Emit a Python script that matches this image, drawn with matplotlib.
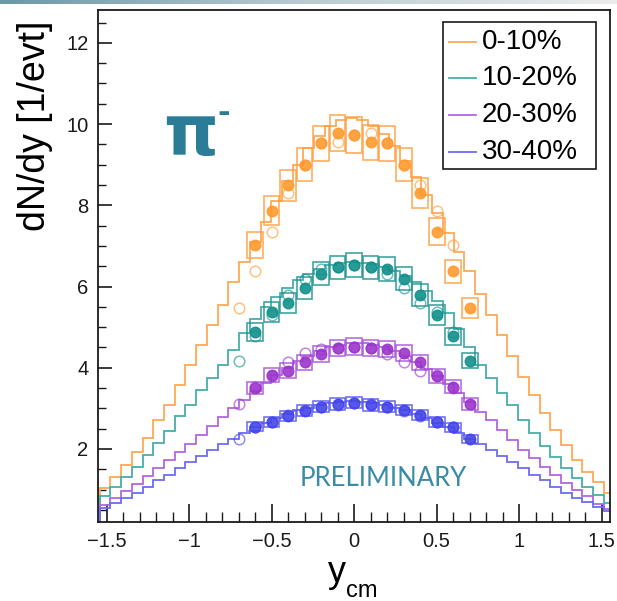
import numpy as np
import matplotlib
matplotlib.use('Agg')
import matplotlib.pyplot as plt
from matplotlib.patches import Rectangle
from matplotlib.lines import Line2D
from matplotlib.ticker import MultipleLocator, FuncFormatter
from matplotlib.colors import LinearSegmentedColormap

plt.rcParams['font.family'] = ['Liberation Sans', 'DejaVu Sans']

# centrality classes
labels = ['0-10%', '10-20%', '20-30%', '30-40%']

# model histograms: rapidity bins of 0.065
bin_edges = np.round(0.018 + 0.065 * np.arange(-24, 25), 4)
model_0_10 = [1.03, 1.32, 1.61, 1.93, 2.28, 2.71, 3.08, 3.58, 4.07, 4.56, 5.05, 5.55,
              6.12, 6.61, 7.10, 7.60, 8.10, 8.60, 9.00, 9.40, 9.70, 9.95, 10.10, 10.15,
              10.10, 9.95, 9.75, 9.45, 9.10, 8.70, 8.25, 7.80, 7.31, 6.86, 6.37, 5.82,
              5.30, 4.81, 4.29, 3.78, 3.33, 2.88, 2.47, 2.10, 1.73, 1.44, 1.19, 0.91]
model_10_20 = [0.85, 1.05, 1.30, 1.55, 1.85, 2.14, 2.43, 2.80, 3.08, 3.45, 3.74, 4.07,
               4.44, 4.85, 5.20, 5.50, 5.75, 5.97, 6.15, 6.30, 6.42, 6.52, 6.58, 6.60,
               6.58, 6.55, 6.48, 6.38, 6.25, 6.10, 5.90, 5.65, 5.35, 4.95, 4.50, 4.07,
               3.74, 3.37, 3.08, 2.71, 2.39, 2.06, 1.81, 1.52, 1.28, 1.07, 0.87, 0.66]
model_20_30 = [0.62, 0.78, 0.96, 1.14, 1.33, 1.52, 1.72, 1.92, 2.12, 2.34, 2.56, 2.78,
               3.00, 3.20, 3.42, 3.62, 3.82, 4.00, 4.16, 4.30, 4.42, 4.50, 4.56, 4.60,
               4.60, 4.56, 4.50, 4.40, 4.28, 4.14, 3.98, 3.80, 3.60, 3.38, 3.15, 2.92,
               2.70, 2.47, 2.22, 1.98, 1.77, 1.56, 1.36, 1.16, 0.99, 0.83, 0.65, 0.52]
model_30_40 = [0.54, 0.66, 0.79, 0.91, 1.07, 1.24, 1.36, 1.52, 1.69, 1.83, 1.98, 2.12,
               2.25, 2.40, 2.53, 2.65, 2.76, 2.86, 2.95, 3.02, 3.08, 3.13, 3.16, 3.17,
               3.16, 3.13, 3.08, 3.02, 2.95, 2.86, 2.76, 2.65, 2.53, 2.40, 2.25, 2.12,
               1.98, 1.83, 1.69, 1.52, 1.36, 1.24, 1.07, 0.91, 0.79, 0.70, 0.58, 0.46]

# measured dN/dy (filled) at y_cm, reflected points drawn open
y_cm = np.array([-0.6, -0.5, -0.4, -0.3, -0.2, -0.1, 0.0, 0.1, 0.2, 0.3, 0.4, 0.5, 0.6, 0.7])
data_0_10 = [7.02, 7.87, 8.49, 9.00, 9.53, 9.78, 9.73, 9.55, 9.53, 9.00, 8.30, 7.35, 6.37, 5.47]
data_10_20 = [4.89, 5.38, 5.60, 5.96, 6.31, 6.47, 6.53, 6.47, 6.43, 6.19, 5.79, 5.30, 4.77, 4.17]
data_20_30 = [3.50, 3.81, 3.93, 4.13, 4.34, 4.48, 4.52, 4.48, 4.46, 4.36, 4.13, 3.80, 3.53, 3.11]
data_30_40 = [2.55, 2.67, 2.81, 2.94, 3.04, 3.11, 3.14, 3.08, 3.04, 2.96, 2.84, 2.67, 2.53, 2.24]
sys_rel = 0.045

models = [model_0_10, model_10_20, model_20_30, model_30_40]
datas = [data_0_10, data_10_20, data_20_30, data_30_40]
line_colors = ['#ffa955', '#48aea9', '#b466e2', '#6c6cf4']
marker_colors = ['#ff9a2e', '#12908b', '#9b35cc', '#4545ea']
box_colors = ['#ffa040', '#1f9590', '#a955dc', '#5a5af0']

W, H = 617, 601
fig = plt.figure(figsize=(W / 100, H / 100), dpi=100)
ax = fig.add_axes([98.3 / W, 1 - 522 / H, (610 - 98.3) / W, 512 / H])

for mod, dat, lc, mc, bc in zip(models, datas, line_colors, marker_colors, box_colors):
    ax.stairs(mod, bin_edges, color=lc, lw=1.3, zorder=2)
    dat = np.array(dat)
    for x, y in zip(y_cm, dat):
        ax.add_patch(Rectangle((x - 0.0475, y * (1 - sys_rel)), 0.095, 2 * sys_rel * y,
                               fill=False, edgecolor=bc, lw=1.2, alpha=0.85, zorder=3))
    ax.plot(-y_cm, dat, 'o', ms=7.6, mfc='none', mec=mc, mew=1.1, alpha=0.6, zorder=4)
    ax.plot(y_cm, dat, 'o', ms=7.6, color=mc, mec=mc, alpha=0.9, zorder=5)

ax.set_xlim(-1.55, 1.55)
ax.set_ylim(0.2, 12.81)
ax.xaxis.set_major_locator(MultipleLocator(0.5))
ax.xaxis.set_minor_locator(MultipleLocator(0.1))
ax.xaxis.set_major_formatter(FuncFormatter(lambda v, p: f'{v:g}'.replace('-', '\u2212')))
ax.yaxis.set_major_locator(MultipleLocator(2))
ax.yaxis.set_minor_locator(MultipleLocator(0.5))
ax.tick_params(axis='x', which='major', direction='in', length=13, width=1.2, pad=7, labelsize=14.5)
ax.tick_params(axis='x', which='minor', direction='in', length=7, width=1.0)
ax.tick_params(axis='y', which='major', direction='in', length=10, width=1.2, pad=7, labelsize=14.5)
ax.tick_params(axis='y', which='minor', direction='in', length=6, width=1.0)
ax.tick_params(top=False, right=False, which='both', colors='#1a1a1a')
for sp in ax.spines.values():
    sp.set_linewidth(1.3)
    sp.set_color('#1a1a1a')

# legend box
ax.add_patch(Rectangle((0.674, 0.689), 0.299, 0.287, transform=ax.transAxes,
                       facecolor='white', edgecolor='#1a1a1a', lw=1.2, zorder=6))
for i, (lab, lc) in enumerate(zip(labels, line_colors)):
    yy = 0.938 - i * 0.0717
    ax.add_line(Line2D([0.685, 0.738], [yy, yy], transform=ax.transAxes, color=lc, lw=1.3, zorder=7))
    ax.text(0.7498, yy, lab, transform=ax.transAxes, fontsize=20, va='center', ha='left', zorder=7)

# axis titles
fig.text(35 / W, 1 - 126 / H, 'dN/dy [1/evt]', rotation=90, fontsize=27, ha='center', va='center')
fig.text(328 / W, 1 - 582 / H, 'y', fontsize=26, ha='left', va='baseline')
fig.text(346 / W, 1 - 597 / H, 'cm', fontsize=17, ha='left', va='baseline')

# particle and status labels
fig.text(163 / W, 1 - 155 / H, 'π', fontsize=50, fontweight='bold', color='#2b7c96',
         family='DejaVu Sans', ha='left', va='baseline')
fig.text(224 / W, 1 - 113 / H, '-', fontsize=22, fontweight='bold', color='#2b7c96',
         family='DejaVu Sans', ha='center', va='center')
fig.text(383 / W, 1 - 478 / H, 'PRELIMINARY', fontsize=18.5, color='#3a8ca6',
         family='Lato', ha='center', va='center')

# thin banner strip along the top edge
band = fig.add_axes([0, 1 - 4 / H, 1, 4 / H])
band.imshow(np.linspace(0, 1, 256)[None, :], aspect='auto',
            cmap=LinearSegmentedColormap.from_list('band', ['#6a98a9', '#b9ccd2', '#ececec']))
band.axis('off')

fig.savefig('out.png', dpi=100)
